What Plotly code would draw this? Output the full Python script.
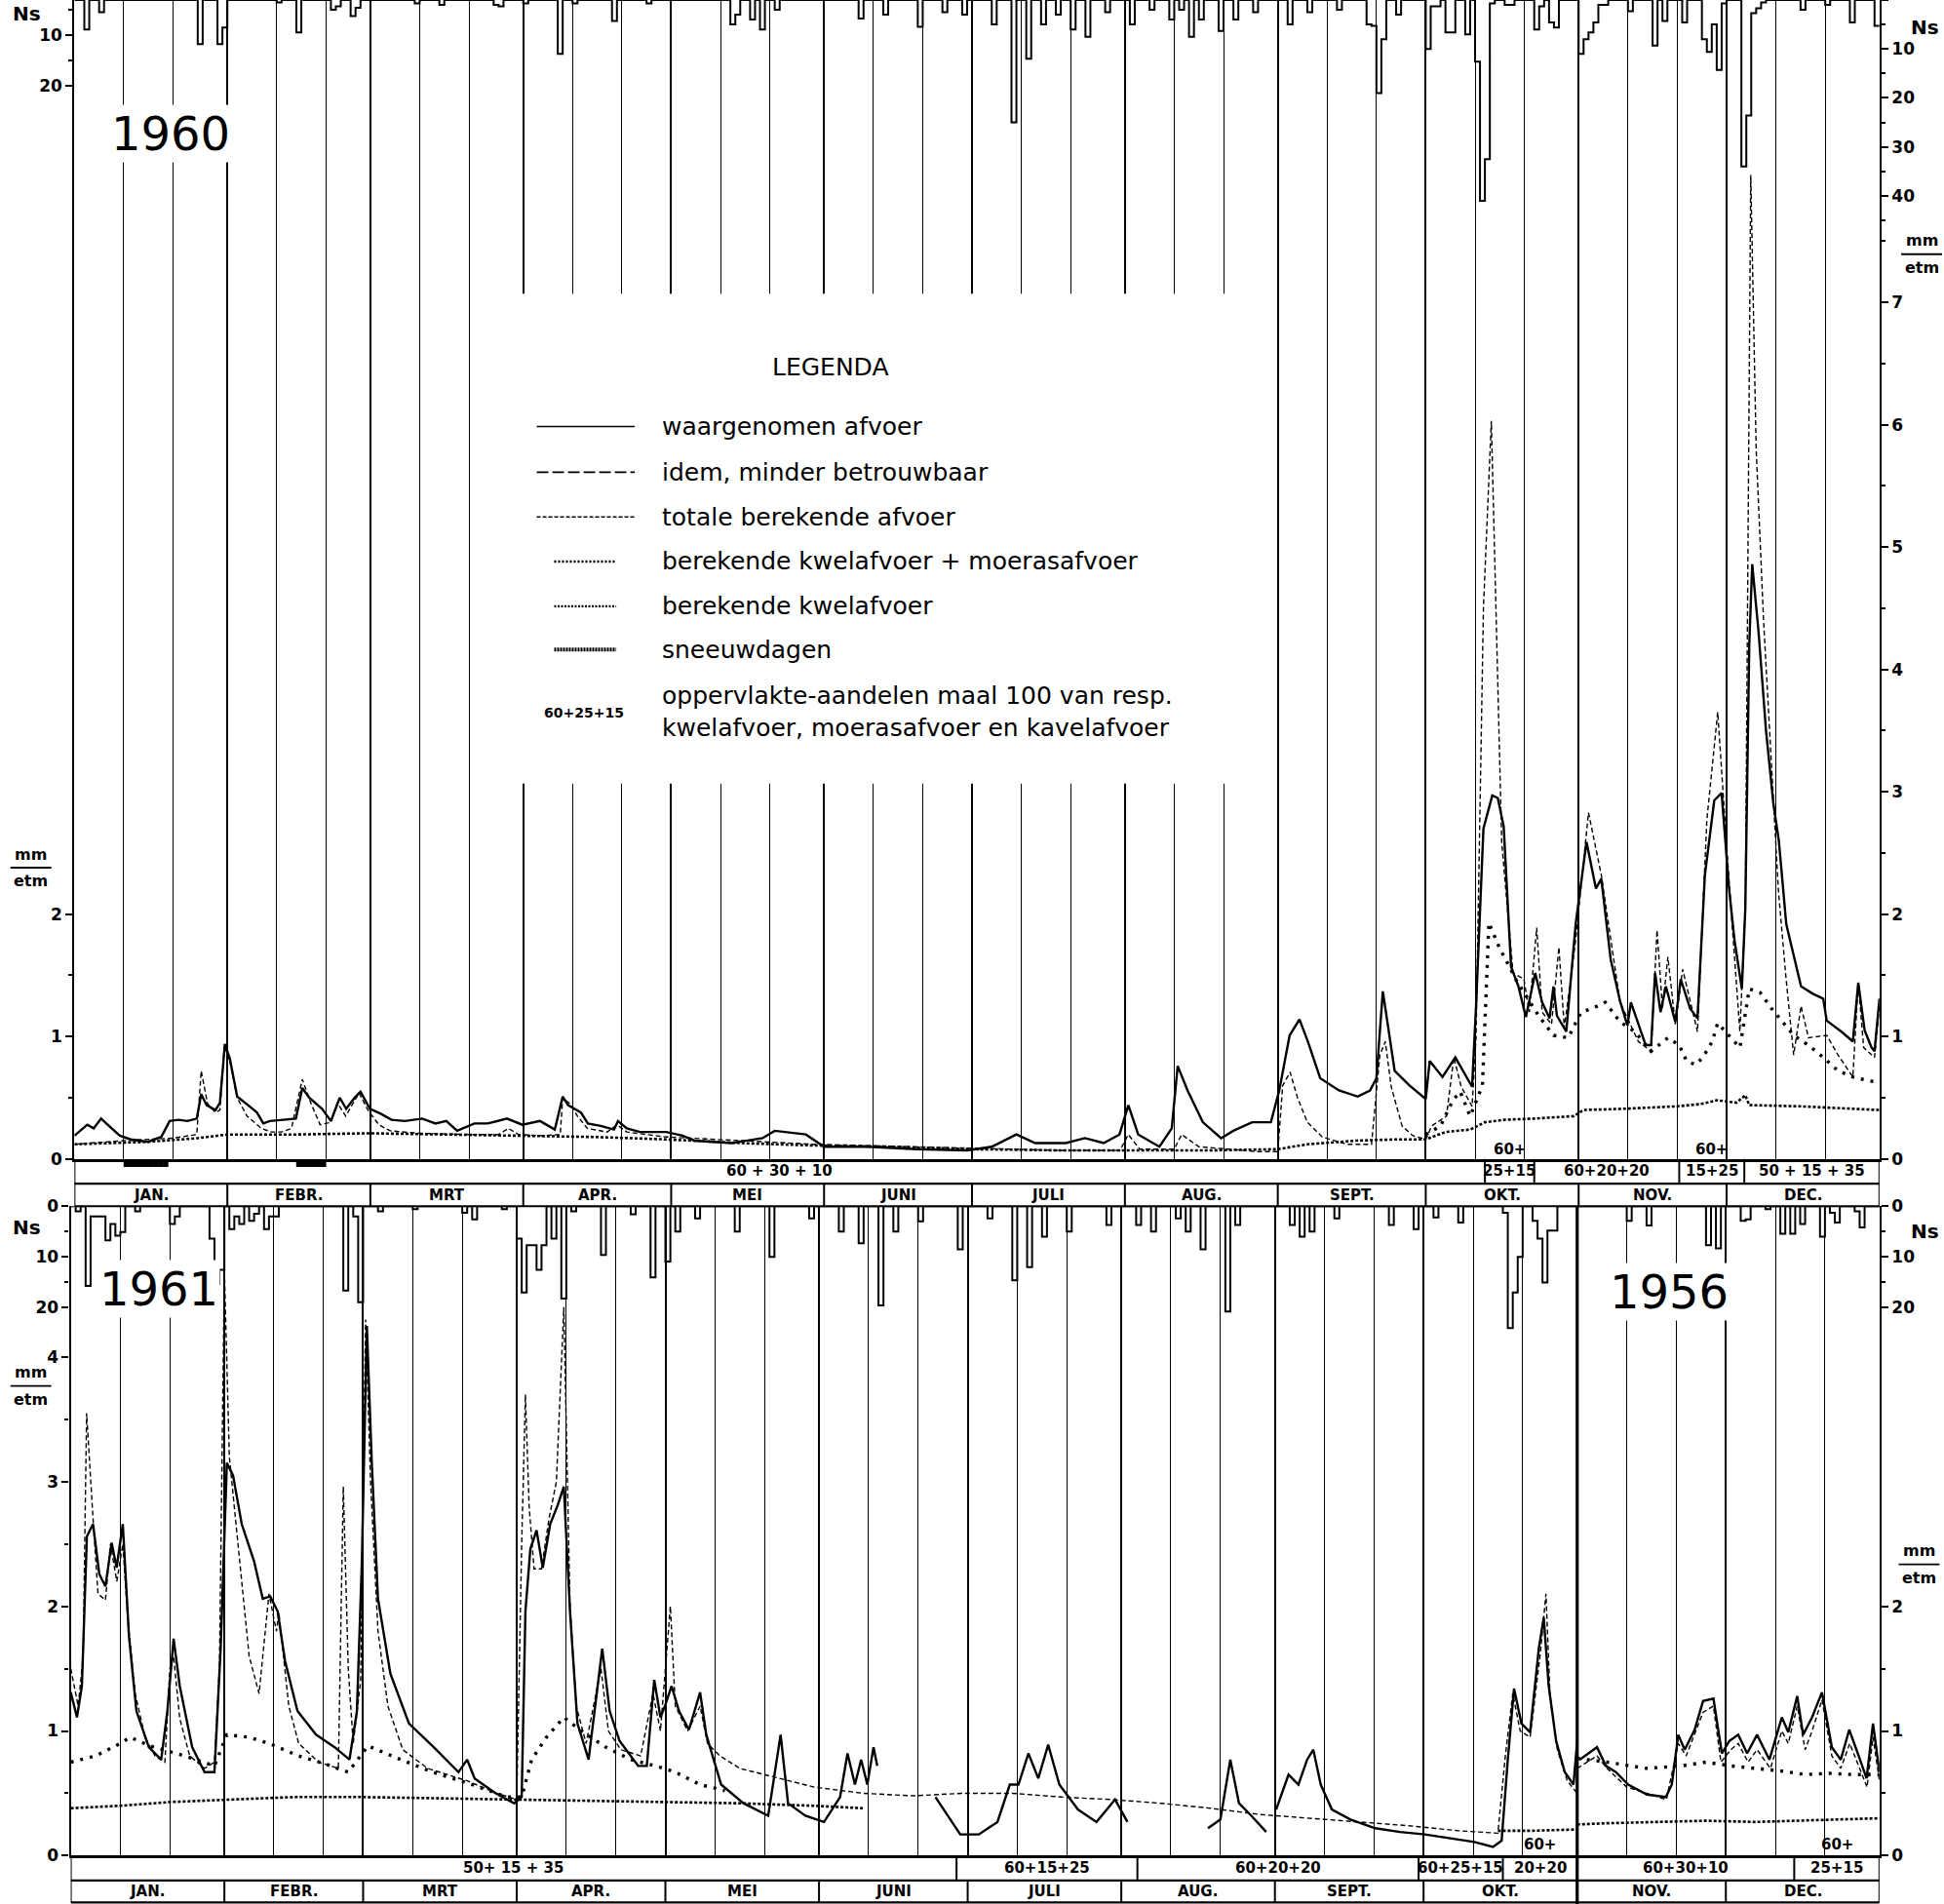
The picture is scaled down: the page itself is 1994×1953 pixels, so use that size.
import numpy as np
import plotly.graph_objects as go

FONT = "DejaVu Sans"

# ---------------- calendar / strip labels ----------------
MONTHS = ["JAN.", "FEBR.", "MRT", "APR.", "MEI", "JUNI", "JULI", "AUG.", "SEPT.", "OKT.", "NOV.", "DEC."]
MONTH_EDGES_1960 = [0, 31, 60, 91, 121, 152, 182, 213, 244, 274, 305, 335, 366]
MONTH_EDGES_LOWER = [0, 31, 59, 90, 120, 151, 181, 212, 243, 273, 304, 334, 365]

AREA_EDGES_1960 = [0, 286.0, 296.0, 325.4, 338.6, 366]
AREA_LABELS_1960 = ["60 + 30 + 10", "25+15", "60+20+20", "15+25", "50 + 15 + 35"]
AREA_TOP_1960 = [None, "60+", None, "60+", None]
AREA_EDGES_LOWER = [0, 178.75, 215.25, 272, 289, 304, 347.8, 365]
AREA_LABELS_LOWER = ["50+ 15 + 35", "60+15+25", "60+20+20", "60+25+15", "20+20", "60+30+10", "25+15"]
AREA_TOP_LOWER = [None, None, None, None, "60+", None, "60+"]

# ---------------- 1960 (upper panel) ----------------
obs60 = [(0,0.19),(2.6,0.28),(3.9,0.25),(5.4,0.33),(7.0,0.27),(9.2,0.19),(11.4,0.16),(14.9,0.14),(17.6,0.18),
         (19.3,0.31),(21.1,0.32),(22.9,0.31),(24.8,0.33),(25.7,0.53),(26.8,0.44),(28.6,0.40),(29.5,0.46),(30.5,0.94),
         (31.5,0.82),(33.0,0.51),(35.2,0.44),(37.0,0.38),(38.3,0.29),(39.6,0.31),(42.3,0.32),(44.9,0.33),(46.2,0.58),
         (47.6,0.50),(50.2,0.41),(52.0,0.31),(53.8,0.50),(55.1,0.41),(56.8,0.50),(58.0,0.55),(59.9,0.41),(62.1,0.37),
         (64.3,0.32),(67.0,0.31),(70.5,0.33),(73.2,0.29),(75.4,0.31),(77.6,0.23),(81.1,0.29),(83.8,0.29),(87.7,0.33),
         (90.8,0.28),(94.4,0.31),(97.4,0.24),(99.0,0.51),(100.1,0.44),(102.7,0.38),(104.1,0.29),(106.7,0.27),(109.4,0.24),
         (110.2,0.31),(112.0,0.25),(114.7,0.22),(120.0,0.22),(123.3,0.19),(125.7,0.15),(133.2,0.13),(139.5,0.17),(142,0.23),
         (148.3,0.20),(152,0.10),(160.9,0.10),(170.9,0.08),(181,0.07),(186,0.10),(191,0.20),(194.8,0.13),(201,0.13),
         (204.9,0.17),(208.7,0.13),(211.9,0.20),(213.7,0.44),(215.7,0.20),(220,0.10),(222.5,0.25),(223.7,0.76),(225.7,0.56),
         (228.8,0.30),(232.5,0.17),(235,0.23),(238.8,0.30),(242.6,0.30),(244.3,0.56),(246.4,1.01),(248.4,1.14),(250.1,0.96),
         (252.6,0.66),(256.4,0.56),(260.2,0.51),(262.7,0.56),(264,0.66),(265.3,1.37),(267.7,0.72),(270.7,0.60),(274,0.49),
         (274.8,0.80),(277.4,0.67),(280,0.83),(283.4,0.59),(284.2,1.25),(285.7,2.70),(287.5,2.97),(288.6,2.95),(289.8,2.72),
         (291.3,1.57),(292.8,1.41),(294.3,1.16),(296.2,1.52),(297.6,1.28),(299.1,1.15),(299.9,1.41),(300.6,1.17),(302.5,1.04),
         (304.4,1.92),(306.6,2.59),(308.5,2.21),(309.6,2.29),(311.5,1.63),(313.4,1.29),(314.9,1.09),(315.6,1.28),(318.6,0.93),
         (319.7,0.93),(320.5,1.52),(321.6,1.20),(322.7,1.41),(324.6,1.12),(325.7,1.47),(327.6,1.23),(329.1,1.15),(330.6,2.32),
         (332.5,2.93),(334,2.99),(335.5,2.21),(336.6,1.79),(338.1,1.39),(338.8,2.05),(339.6,4.20),(340.2,4.86),(341.5,4.30),
         (343,3.50),(344.5,2.90),(345.6,2.60),(347.1,1.92),(350.1,1.41),(352.5,1.35),(354.6,1.31),(355.3,1.13),(358.3,1.04),
         (360.6,0.96),(361.7,1.44),(363,1.05),(364.4,0.91),(365,0.88),(366,1.31)]

tot60 = [(0,0.12),(10,0.15),(20,0.17),(24.8,0.2),(25.7,0.72),(27,0.45),(28.6,0.38),(29.5,0.4),(30.4,0.93),(31.5,0.8),
         (33,0.5),(35,0.35),(37.9,0.25),(40,0.22),(42,0.22),(44,0.25),(46.2,0.65),(48,0.45),(49.8,0.28),(52,0.3),
         (53.3,0.46),(55,0.35),(57.7,0.54),(59.5,0.4),(61.7,0.28),(64,0.23),(70,0.21),(80,0.2),(86,0.2),(88,0.25),
         (90,0.2),(95,0.19),(98.5,0.2),(99,0.5),(100.5,0.45),(102,0.35),(104,0.25),(108,0.22),(110,0.28),(112,0.22),
         (120,0.18),(130,0.16),(150,0.12),(160,0.11),(180,0.09),(200,0.07),(212,0.07),(213.7,0.2),(216,0.08),(223,0.08),
         (224.5,0.2),(228,0.1),(240,0.06),(244,0.06),(245,0.6),(246.5,0.71),(248,0.5),(250,0.3),(253,0.18),(258,0.12),
         (263,0.12),(264.7,0.85),(265.8,0.96),(267,0.59),(269.2,0.27),(271.4,0.19),(274,0.16),(275.2,0.27),(278.2,0.35),
         (279.7,0.83),(281.2,0.59),(283.4,0.43),(284.2,0.99),(285.7,4.5),(287.3,6.03),(288.7,3.65),(289.4,2.59),
         (291.7,1.52),(293.9,1.47),(295,1.2),(296.5,1.89),(297.6,1.2),(299.5,1.1),(301,1.73),(302.1,1.07),(304.4,1.79),
         (307,2.83),(309.6,2.32),(313.4,1.28),(317.1,0.96),(319.7,0.88),(320.9,1.87),(322,1.23),(323.1,1.65),(324.6,1.1),
         (326.1,1.55),(329.1,1.04),(331,2.77),(333.2,3.65),(335.5,2.27),(337.7,1.04),(338.8,2.05),(339.9,8.04),(341,5.8),
         (342.5,4.4),(344,3.3),(345.5,2.2),(347,1.5),(348.6,0.85),(350.1,1.25),(351.6,0.99),(355.3,1.01),(357.6,0.85),
         (360.6,0.67),(361.7,1.44),(362.8,0.91),(365,0.83),(366,1.25)]

kwm60 = [(274,0.2),(277,0.27),(279.5,0.48),(281,0.55),(283,0.35),(285.5,0.6),(286.8,1.93),(287.9,1.83),(289,1.72),
         (290.2,1.63),(292.5,1.45),(294.7,1.31),(296.9,1.17),(299.9,1.01),(302.9,0.99),(305.5,1.2),(307.8,1.23),
         (310.4,1.28),(313.4,1.12),(316.4,1.04),(319.7,0.88),(323.1,0.99),(325.4,0.93),(326.9,0.8),(328.7,0.77),
         (330.2,0.83),(332.1,0.96),(333.2,1.11),(335.5,1.01),(337.7,0.91),(339.6,1.39),(341.8,1.36),(344.1,1.23),
         (346.3,1.12),(348.6,1.01),(351.6,0.93),(354.6,0.83),(357.6,0.72),(360.6,0.67),(363.6,0.64),(365.4,0.63)]

kw60 = [(0,0.12),(15,0.14),(25,0.17),(31,0.2),(45,0.2),(60,0.21),(75,0.2),(90,0.19),(105,0.18),(120,0.16),(135,0.13),
        (150,0.11),(165,0.1),(182,0.08),(200,0.07),(213,0.07),(230,0.07),(244,0.08),(250,0.12),(260,0.15),(268,0.16),
        (274,0.16),(278,0.22),(283,0.24),(286,0.3),(290,0.32),(296,0.33),(304,0.35),(306,0.4),(314,0.41),(325,0.43),
        (330,0.45),(333,0.48),(337,0.46),(338.8,0.52),(339.6,0.44),(350,0.43),(366,0.4)]

rain60 = [(2,6),(5,2.5),(25,9),(29,9),(30,5.6),(41,0.5),(45,6.6),(52,2),(53,1.3),(56,3.3),(57,1.6),(69,0.7),(74,1),
          (85,1),(86,1.3),(91,0.7),(98,11),(101,0.7),(109,4.3),(116,0.7),(133,5),(134,3),(137,4),(139,6),(142,2),
          (159,3.8),(164,3),(171,5.5),(176,2.5),(180,3),(186,5),(190,25),(193,12),(196,5),(199,3),(202,6),(205,7.5),
          (209,2.5),(214,5),(218,2),(222,4),(224,2),(226,7.5),(228,4),(232,6.3),(235,4),(239,2.5),(246,5),(250,2.5),
          (256,2),(262,5),(263,5.3),(264,19),(265,8),(268,3),(274,10),(275,1.3),(276,1.3),(278,6.6),(279,6.6),(282,7),
          (284,12.6),(285,41),(286,32.5),(287,0.7),(290,1),(291,1),(296,6),(297,1.3),(299,4.6),(300,5.6),(305,11),
          (306,8),(307,6.6),(308,4.6),(309,1),(310,1),(315,2.3),(320,9.3),(322,4.3),(326,4.6),(330,8),(331,10.6),
          (332,5),(333,14.3),(334,0.7),(338,34),(339,23.6),(340,2.7),(341,1.7),(342,0.5),(350,2),(355,1),(360,4.6),
          (365,5.3)]

snow60 = [10, 11, 12, 13, 14, 15, 16, 17, 18, 45, 46, 47, 48, 49, 50]

# ---------------- 1961 (Jan-Oct) + 1956 (Nov-Dec), lower panel ----------------
obs61 = [(0,1.31),(1.25,1.11),(2.25,1.36),(3.25,2.56),(4.5,2.66),(5.75,2.26),(7,2.16),(8.25,2.51),(9.25,2.31),
         (10.5,2.66),(11.75,1.76),(13.25,1.16),(15.75,0.87),(18.25,0.77),(19.5,1.16),(20.75,1.74),(22,1.36),(24.5,0.87),
         (27,0.67),(29,0.67),(30.25,1.66),(31.5,3.15),(32.75,3.05),(34.5,2.66),(37,2.36),(38.75,2.06),(40.25,2.08),
         (41.75,1.96),(43.25,1.56),(45.75,1.16),(49.5,0.97),(53.25,0.87),(56.25,0.77),(57.75,1.16),(58.75,2.36),
         (59.75,4.25),(60.75,3.15),(62,2.06),(64.5,1.46),(68.25,1.06),(73.25,0.87),(78.25,0.67),(80,0.77),(81.5,0.62),
         (85.75,0.50),(89.5,0.42),(91,0.47),(91.75,1.96),(92.75,2.46),(94,2.61),(95.25,2.31),(96.75,2.66),(98.25,2.81),
         (99.5,2.96),(100.75,1.96),(102.25,1.06),(104.5,0.77),(107.25,1.66),(108.75,1.16),(110.75,0.92),(114.5,0.72),
         (116.25,0.72),(117.75,1.41),(119,1.11),(120,1.21),(121.25,1.36),(122.75,1.16),(124.75,1.01),(127,1.31),
         (128.25,0.97),(131.25,0.57),(135.75,0.42),(140.75,0.32),(143.25,0.97),(144.75,0.42),(148.25,0.32),(152,0.27),
         (155.25,0.47),(156.75,0.82),(158.25,0.57),(159.5,0.77),(160.75,0.57),(162,0.87),(162.75,0.72),(None,None),
         (174.5,0.47),(177,0.32),(179.5,0.17),(183.25,0.17),(187,0.27),(189.5,0.57),(191.25,0.57),(193.25,0.82),
         (195.25,0.62),(197.25,0.89),(199.5,0.57),(203.25,0.37),(207,0.27),(210.75,0.45),(213.25,0.27),(None,None),
         (229.5,0.22),(232,0.29),(234,0.77),(235.75,0.42),(238.25,0.32),(241.25,0.19),(None,None),(243.25,0.37),
         (245.75,0.65),(247.75,0.57),(249.5,0.77),(250.75,0.85),(252.25,0.57),(254.5,0.37),(258.25,0.29),(263.25,0.22),
         (268.25,0.19),(273.25,0.17),(278.25,0.14),(283.25,0.11),(287,0.07),(288.75,0.12),(290,0.77),(291.25,1.34),
         (292.75,1.06),(294.5,0.99),(296.25,1.66),(297.25,1.91),(298.25,1.36),(299.75,0.92),(301.5,0.67),(303.25,0.57),
         (304,0.92)]

obs56 = [(304.5,0.77),(306.3,0.82),(308,0.87),(309.8,0.72),(311.8,0.67),(314.3,0.57),(318.1,0.49),(321.9,0.47),
         (323.1,0.57),(324.4,0.97),(325.7,0.85),(327.7,1.01),(329.4,1.24),(331.5,1.26),(333.2,0.82),(334.7,0.92),
         (336.5,0.97),(338.3,0.82),(340.3,0.97),(342.8,0.77),(345.3,1.11),(346.6,0.99),(348.4,1.28),(349.6,0.97),
         (351.4,1.11),(353.4,1.31),(355.4,0.87),(357.2,0.77),(358.9,1.01),(360.9,0.79),(362.4,0.62),(363.7,1.06),
         (365,0.67)]

tot61 = [(0,1.5),(1.5,1.2),(2.5,1.6),(3.2,3.55),(4.5,2.7),(5.5,2.1),(7,2.05),(8,2.5),(9.3,2.2),(10.5,2.5),(11.5,1.9),
         (13,1.3),(15,0.95),(17,0.8),(19,0.75),(20,1.5),(20.75,1.6),(22,1.1),(24,0.8),(27,0.7),(29,0.75),(30,1.5),
         (31,4.7),(32,3.2),(33.5,2.6),(35,2.0),(36,1.6),(38,1.3),(40,2.1),(41.5,1.8),(42,1.95),(44,1.2),(46,0.9),
         (50,0.75),(54,0.7),(55,2.96),(56,1.5),(57,0.9),(58.5,1.4),(59.5,4.3),(60.5,3.0),(62,1.8),(64,1.2),(67,0.85),
         (72,0.7),(80,0.6),(86,0.5),(90,0.45),(91,2.5),(91.75,3.7),(92.5,2.8),(93.5,2.3),(95,2.3),(96.5,2.7),(98,3.0),
         (99.5,4.4),(100.75,2.0),(102,1.2),(104,0.9),(107,1.5),(108.5,1.0),(111,0.85),(115,0.8),(117.5,1.3),(119,1.0),
         (121,2.0),(122,1.2),(124.5,1.0),(127,1.2),(128.5,0.9),(131,0.8),(135,0.7),(140,0.65),(145,0.6),(150,0.55),
         (160,0.5),(170,0.48),(180,0.5),(190,0.5),(200,0.47),(210,0.45),(220,0.42),(230,0.38),(240,0.33),(250,0.3),
         (260,0.27),(270,0.24),(280,0.2),(288,0.18),(289.5,0.8),(291,1.3),(292.5,1.0),(294.5,0.95),(296.5,1.6),
         (297.7,2.1),(298.5,1.3),(300,0.85),(302,0.6),(304,0.5)]

tot56 = [(304,0.7),(306,0.75),(308,0.8),(310,0.7),(314,0.55),(318,0.5),(322,0.45),(324.4,0.9),(326,0.8),(329.4,1.15),
         (331.5,1.2),(333,0.75),(335,0.85),(336.5,0.9),(338.5,0.75),(340.3,0.85),(343,0.7),(345.3,1.0),(346.6,0.9),
         (348.4,1.2),(350,0.85),(351.4,1.0),(353.4,1.25),(355.4,0.8),(357.2,0.7),(359,0.9),(361,0.7),(362.5,0.55),
         (363.7,0.95),(365,0.6)]

kwm61 = [(0,0.75),(5,0.8),(10,0.9),(12,0.95),(16,0.88),(23,0.8),(29,0.72),(31.5,0.97),(36,0.95),(40,0.9),(46,0.8),
         (51,0.74),(56,0.67),(60,0.88),(66,0.78),(73,0.67),(81,0.57),(88,0.47),(91,0.47),(93,0.77),(96,0.95),
         (99.5,1.11),(103,1.0),(108,0.87),(113,0.77),(118,0.72),(122,0.67),(127,0.57),(132,0.52)]

kwm56 = [(304,0.78),(310,0.75),(318,0.7),(325,0.72),(330,0.75),(335,0.72),(340,0.7),(345,0.68),(350,0.65),
         (355,0.66),(360,0.65),(365,0.65)]

kw61 = [(0,0.38),(10,0.4),(20,0.43),(31,0.45),(45,0.47),(59,0.47),(75,0.46),(90,0.45),(100,0.44),(120,0.43),
        (135,0.42),(150,0.4),(160,0.38),(None,None),(288,0.2),(295,0.2),(304,0.21)]

kw56 = [(304,0.25),(310,0.26),(320,0.27),(330,0.28),(340,0.27),(350,0.28),(360,0.29),(365,0.3)]

rain_lower = [(1,1),(3,15.7),(4,2),(5,2),(6,2),(7,6.7),(8,3.5),(9,5.8),(10,5.1),(13,1),(20,3.5),(21,2),(28,6.4),
              (29,15.3),(30,12.5),(32,4.5),(33,2),(34,3.5),(36,2.9),(37,1.5),(39,4.5),(40,2),(41,2),(55,16.6),
              (57,2),(58,18.9),(62,1),(69,0.6),(79,1.3),(81,2.6),(87,0.6),(90,6.4),(91,17),(92,7.7),(93,7.7),
              (94,12.5),(95,7.7),(97,6.4),(99,18.2),(101,1),(107,9.6),(113,1.6),(117,14),(120,10.9),(122,5),
              (126,2.4),(134,5),(141,10),(149,2.4),(155,5),(159,7.3),(163,19.5),(166,5),(171,3),(179,8.5),(185,2.4),
              (190,14.6),(193,12),(196,6),(201,5),(209,3.7),(215,3.7),(218,5),(223,2.4),(225,5),(228,8.5),(233,20.7),
              (235,3.7),(246,3.7),(248,6),(250,5),(255,2.4),(266,3.7),(271,4.5),(275,2.2),(280,3.2),(289,1.3),
              (290,24),(291,17),(292,10),(295,2.9),(296,6.4),(297,15),(298,4.8),(299,4.8),
              (314,2.9),(318,3.8),(330,7.7),(332,8.3),(337,2.9),(338,2.6),(342,0.6),(345,5.4),(347,5.4),(349,3.5),
              (353,6),(355,1.3),(356,3.2),(360,1),(361,4.2)]


def unzip(pairs):
    return [p[0] for p in pairs], [p[1] for p in pairs]


def daily_step(pairs, ndays):
    arr = np.zeros(ndays)
    for d, mm in pairs:
        arr[int(d)] = mm
    return np.arange(ndays + 1), np.append(arr, arr[-1])


def decades(edges):
    out = []
    for s in edges[:-1]:
        out += [s + 10, s + 20]
    return out


# ---------------- geometry (paper fractions) ----------------
X_TOP = [0.0383, 0.9668]
X_BOT = [0.0364, 0.9668]
Y_TOP = [0.3913, 1.0]
Y_BOT = [0.0254, 0.3665]
Y_SNOW = [0.3858, 0.3913]
Q_TOP = [0, 9.47]
Q_BOT = [0, 5.21]
NS_TOP_R = [236.7, 0]
NS_TOP_L = [231.2, 3.17]
NS_BOT = [127.8, 0]

fig = go.Figure()

OBS = dict(color="black", width=2.4)
TOT = dict(color="black", width=1.4, dash="5px,3px")
KWM = dict(color="black", width=3.4, dash="3px,7px")
KW = dict(color="black", width=2.6, dash="3px,2px")
RAIN = dict(color="black", width=2.0)


def line_trace(pairs, style, xa, ya):
    xs, ys = unzip(pairs)
    return go.Scatter(x=xs, y=ys, mode="lines", line=style, xaxis=xa, yaxis=ya, connectgaps=False,
                      hoverinfo="skip")


# precipitation (upper / lower); the second copy only carries the opposite-side Ns scale
rx, ry = daily_step(rain60, 366)
fig.add_trace(go.Scatter(x=rx, y=ry, mode="lines", line=dict(shape="hv", **RAIN), xaxis="x", yaxis="y4"))
fig.add_trace(go.Scatter(x=rx, y=ry, mode="lines", line=dict(shape="hv", **RAIN), opacity=0,
                         xaxis="x", yaxis="y3"))
rx2, ry2 = daily_step(rain_lower, 365)
fig.add_trace(go.Scatter(x=rx2, y=ry2, mode="lines", line=dict(shape="hv", **RAIN), xaxis="x2", yaxis="y7"))
fig.add_trace(go.Scatter(x=rx2, y=ry2, mode="lines", line=dict(shape="hv", **RAIN), opacity=0,
                         xaxis="x2", yaxis="y8"))

# upper panel discharge (computed on left scale, observed on right scale: identical ranges)
fig.add_trace(line_trace(kw60, KW, "x", "y"))
fig.add_trace(line_trace(kwm60, KWM, "x", "y"))
fig.add_trace(line_trace(tot60, TOT, "x", "y"))
fig.add_trace(line_trace(obs60, OBS, "x", "y2"))

# snow days: a thin band of their own just under the zero line
fig.add_trace(go.Scatter(x=[d + 0.5 for d in snow60], y=[0.5] * len(snow60), mode="markers",
                         marker=dict(symbol="square", size=5.5, color="black", line=dict(width=0)),
                         xaxis="x3", yaxis="y9", hoverinfo="skip"))

# lower panel discharge
for pairs, style in [(kw61, KW), (kw56, KW), (kwm61, KWM), (kwm56, KWM), (tot61, TOT), (tot56, TOT)]:
    fig.add_trace(line_trace(pairs, style, "x2", "y5"))
fig.add_trace(line_trace(obs61, OBS, "x2", "y6"))
fig.add_trace(line_trace(obs56, OBS, "x2", "y6"))

tickfont = dict(family=FONT, size=17, color="black", weight="bold")
ax = dict(showgrid=False, zeroline=False, showline=True, linecolor="black", linewidth=2.2, ticks="outside",
          ticklen=7, tickwidth=2, tickcolor="black", tickfont=tickfont, automargin=False, fixedrange=True,
          tickmode="array")


def minor(vals):
    return dict(tickmode="array", tickvals=vals, ticks="outside", ticklen=4, tickwidth=1.5, tickcolor="black")


def xgrid(domain, anchor, rng, edges):
    return dict(domain=domain, anchor=anchor, range=rng, showticklabels=False, ticks="", tickmode="array",
                tickvals=edges, showgrid=True, gridcolor="black", gridwidth=2.2, zeroline=False,
                showline=True, linecolor="black", linewidth=2.6, fixedrange=True,
                minor=dict(tickmode="array", tickvals=decades(edges), showgrid=True, gridcolor="black",
                           gridwidth=1.1, ticks=""))


fig.update_layout(
    width=1994, height=1953, margin=dict(l=0, r=0, t=0, b=0),
    paper_bgcolor="white", plot_bgcolor="rgba(0,0,0,0)", showlegend=False, hovermode=False,
    xaxis=xgrid(X_TOP, "y", [0, 366], MONTH_EDGES_1960),
    xaxis2=xgrid(X_BOT, "y5", [0, 365], MONTH_EDGES_LOWER),
    xaxis3=dict(domain=X_TOP, anchor="y9", range=[0, 366], visible=False, fixedrange=True),
    yaxis9=dict(domain=Y_SNOW, anchor="x3", range=[0, 1], visible=False, fixedrange=True),
    yaxis=dict(domain=Y_TOP, anchor="x", range=Q_TOP, side="left", tickvals=[0, 1, 2],
               minor=minor([0.5, 1.5]), **ax),
    yaxis2=dict(overlaying="y", anchor="x", range=Q_TOP, side="right", tickvals=list(range(8)),
                minor=minor([0.5 + i for i in range(8)]), **ax),
    yaxis3=dict(overlaying="y", anchor="x", range=NS_TOP_L, side="left", tickvals=[10, 20],
                minor=minor([5, 15]), **ax),
    yaxis4=dict(overlaying="y", anchor="x", range=NS_TOP_R, side="right", tickvals=[0, 10, 20, 30, 40],
                minor=minor([5, 15, 25, 35, 45]), **ax),
    yaxis5=dict(domain=Y_BOT, anchor="x2", range=Q_BOT, side="left", tickvals=[0, 1, 2, 3, 4],
                minor=minor([0.5, 1.5, 2.5, 3.5]), **ax),
    yaxis6=dict(overlaying="y5", anchor="x2", range=Q_BOT, side="right", tickvals=[0, 1, 2],
                minor=minor([0.5, 1.5]), **ax),
    yaxis7=dict(overlaying="y5", anchor="x2", range=NS_BOT, side="left", tickvals=[0, 10, 20],
                minor=minor([5, 15]), **ax),
    yaxis8=dict(overlaying="y5", anchor="x2", range=NS_BOT, side="right", tickvals=[0, 10, 20],
                minor=minor([5, 15]), **ax),
)

shapes = []
annotations = []


def hline(xref, x0, x1, y, w=2.2):
    shapes.append(dict(type="line", xref=xref, yref="paper", x0=x0, x1=x1, y0=y, y1=y,
                       line=dict(color="black", width=w), layer="above"))


def vline(xref, x, y0, y1, w=2.0):
    shapes.append(dict(type="line", xref=xref, yref="paper", x0=x, x1=x, y0=y0, y1=y1,
                       line=dict(color="black", width=w), layer="above"))


def text(x, y, s, size=16, xref="paper", yref="paper", xanchor="center", yanchor="middle", bold=False, **kw):
    f = dict(family=FONT, size=size, color="black")
    if bold:
        f["weight"] = "bold"
    annotations.append(dict(x=x, y=y, xref=xref, yref=yref, text=s, showarrow=False, font=f,
                            xanchor=xanchor, yanchor=yanchor, **kw))


def strips(xref, edges_m, edges_a, labels_a, tops_a, y_top, y_mid, y_bot, y_sup):
    hline(xref, edges_m[0], edges_m[-1], y_mid)
    hline(xref, edges_m[0], edges_m[-1], y_bot)
    vline(xref, edges_m[0], y_bot, y_top)
    vline(xref, edges_m[-1], y_bot, y_top)
    for e in edges_a[1:-1]:
        vline(xref, e, y_mid, y_top)
    for i, lab in enumerate(labels_a):
        c = 0.5 * (edges_a[i] + edges_a[i + 1])
        text(c, 0.5 * (y_top + y_mid), lab, size=15, xref=xref, bold=True)
        if tops_a[i]:
            text(c, y_sup, tops_a[i], size=15, xref=xref, bold=True)
    for e in edges_m[1:-1]:
        vline(xref, e, y_bot, y_mid)
    for i, m in enumerate(MONTHS):
        text(0.5 * (edges_m[i] + edges_m[i + 1]), 0.5 * (y_mid + y_bot), m, size=15, xref=xref, bold=True)


strips("x", MONTH_EDGES_1960, AREA_EDGES_1960, AREA_LABELS_1960, AREA_TOP_1960,
       Y_TOP[0], 0.3783, Y_BOT[1], 0.3962)
strips("x2", MONTH_EDGES_LOWER, AREA_EDGES_LOWER, AREA_LABELS_LOWER, AREA_TOP_LOWER,
       Y_BOT[0], 0.0124, 0.0008, 0.0313)
# thick separator 1961 / 1956
vline("x2", 304, 0.0, Y_BOT[1], w=3.2)

# ---------------- legend box ----------------
LX0, LX1, LY0, LY1 = 0.2665, 0.6475, 0.5885, 0.8457
shapes.append(dict(type="rect", xref="paper", yref="paper", x0=LX0, x1=LX1, y0=LY0, y1=LY1,
                   fillcolor="white", line=dict(width=0), layer="above"))
text(0.4273, 0.8073, "LEGENDA", size=25)
LEG_ROWS = [0.776, 0.752, 0.7285, 0.7051, 0.6816, 0.6589]
LEG_TEXT = ["waargenomen afvoer", "idem, minder betrouwbaar", "totale berekende afvoer",
            "berekende kwelafvoer + moerasafvoer", "berekende kwelafvoer", "sneeuwdagen"]
LEG_STYLE = [(0.2761, 0.3265, dict(width=1.6)), (0.2761, 0.3265, dict(width=1.6, dash="12px,4px")),
             (0.2761, 0.3265, dict(width=1.4, dash="4px,2px")), (0.2851, 0.3170, dict(width=2.4, dash="2px,2px")),
             (0.2851, 0.3170, dict(width=2.4, dash="2px,1.5px")), (0.2851, 0.3170, dict(width=4, dash="2px,1px"))]
for yy, lab, (a, b, st) in zip(LEG_ROWS, LEG_TEXT, LEG_STYLE):
    shapes.append(dict(type="line", xref="paper", yref="paper", x0=a, x1=b, y0=yy, y1=yy,
                       line=dict(color="black", **st), layer="above"))
    text(0.3393, yy, lab, size=25, xanchor="left")
text(0.3005, 0.6257, "60+25+15", size=14, bold=True)
text(0.3393, 0.6263, "oppervlakte-aandelen maal 100 van resp.<br>kwelafvoer, moerasafvoer en kavelafvoer",
     size=25, xanchor="left", align="left")

# ---------------- year labels ----------------
text(0.088, 0.9297, "1960", size=48, bgcolor="white")
text(0.0816, 0.3229, "1961", size=48, bgcolor="white")
text(0.8584, 0.3216, "1956", size=48, bgcolor="white")

# ---------------- axis unit labels ----------------
for (xx, yy) in [(0.0140, 0.9930), (0.9904, 0.9857), (0.0140, 0.3555), (0.9904, 0.3535)]:
    text(xx, yy, "Ns", size=20, bold=True)
for (xx, yy) in [(0.0159, 0.5443), (0.9885, 0.8665), (0.0159, 0.2721), (0.9872, 0.1784)]:
    text(xx, yy + 0.0012, "mm", size=16, yanchor="bottom", bold=True)
    text(xx, yy - 0.0012, "etm", size=16, yanchor="top", bold=True)
    shapes.append(dict(type="line", xref="paper", yref="paper", x0=xx - 0.0105, x1=xx + 0.0105,
                       y0=yy, y1=yy, line=dict(color="black", width=1.8), layer="above"))

fig.update_layout(shapes=shapes, annotations=annotations)
fig.write_html("out.html", config={"displayModeBar": False},
               post_script="document.body.style.margin='0';document.body.style.padding='0';"
                           "document.documentElement.style.overflow='hidden';")
